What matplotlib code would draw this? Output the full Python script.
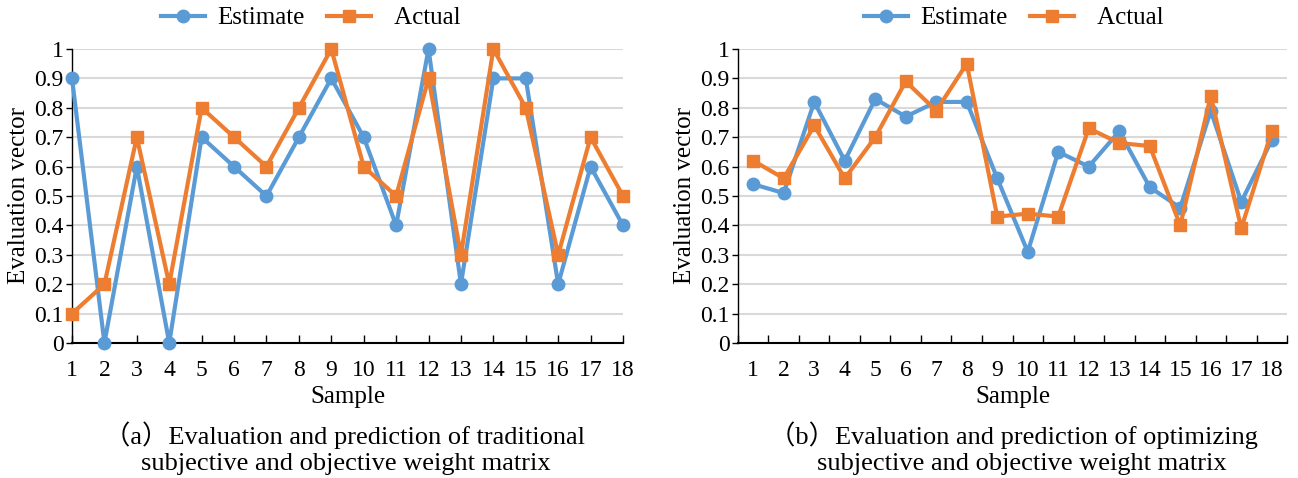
import numpy as np
import matplotlib.pyplot as plt
from matplotlib.ticker import FixedLocator

plt.rcParams['font.family'] = ['Liberation Serif', 'DejaVu Serif']

samples = list(range(1, 19))

# (a) traditional subjective/objective weight matrix
est_a = [0.9, 0.0, 0.6, 0.0, 0.7, 0.6, 0.5, 0.7, 0.9, 0.7, 0.4, 1.0, 0.2, 0.9, 0.9, 0.2, 0.6, 0.4]
act_a = [0.1, 0.2, 0.7, 0.2, 0.8, 0.7, 0.6, 0.8, 1.0, 0.6, 0.5, 0.9, 0.3, 1.0, 0.8, 0.3, 0.7, 0.5]

# (b) optimizing weight matrix
est_b = [0.54, 0.51, 0.82, 0.62, 0.83, 0.77, 0.82, 0.82, 0.56, 0.31, 0.65, 0.60, 0.72, 0.53, 0.46, 0.79, 0.48, 0.69]
act_b = [0.62, 0.56, 0.74, 0.56, 0.70, 0.89, 0.79, 0.95, 0.43, 0.44, 0.43, 0.73, 0.68, 0.67, 0.40, 0.84, 0.39, 0.72]

yticks = np.round(np.arange(0, 1.01, 0.1), 1)
ytick_labels = ["0"] + ["%.1f" % v for v in yticks[1:-1]] + ["1"]

blue = "#5B9BD5"
orange = "#ED7D31"
fs = 18
tfs = 17
cfs = 19

fig = plt.figure(figsize=(12.98, 4.78), dpi=100)
ax_a = fig.add_axes([72/1298, 1-343/478, 551/1298, 294/478])
ax_b = fig.add_axes([738/1298, 1-343/478, 549/1298, 294/478])


def style(ax):
    ax.set_ylim(0, 1)
    ax.set_yticks(yticks)
    ax.set_yticklabels(ytick_labels, fontsize=tfs)
    ax.yaxis.grid(True, color="#D9D9D9", linewidth=1.5)
    ax.set_axisbelow(True)
    for s in ["top", "right"]:
        ax.spines[s].set_visible(False)
    ax.spines["left"].set_linewidth(1.0)
    ax.spines["bottom"].set_linewidth(1.5)
    ax.tick_params(axis="y", direction="out", length=4, width=1, pad=2)
    ax.set_ylabel("Evaluation vector", fontsize=fs, labelpad=3)
    ax.set_xlabel("Sample", fontsize=fs, labelpad=4)


leg_kw = dict(loc="center", bbox_transform=fig.transFigure, ncol=2, frameon=False, fontsize=fs,
              handlelength=1.75, columnspacing=0.9, handletextpad=0.5)

# panel a
ax_a.plot(samples, est_a, color=blue, lw=3, marker="o", ms=9, label="Estimate", clip_on=False, zorder=3)
ax_a.plot(samples, act_a, color=orange, lw=3, marker="s", ms=9, label="  Actual", clip_on=False, zorder=4)
ax_a.set_xlim(1, 18)
ax_a.set_xticks(samples)
ax_a.set_xticklabels([str(s) for s in samples], fontsize=tfs)
ax_a.tick_params(axis="x", direction="in", length=6, width=1, pad=12)
style(ax_a)
ax_a.legend(bbox_to_anchor=(311/1298, 1-18/478), **leg_kw)

# panel b
ax_b.plot(samples, est_b, color=blue, lw=3, marker="o", ms=9, label="Estimate", zorder=3)
ax_b.plot(samples, act_b, color=orange, lw=3, marker="s", ms=9, label="  Actual", zorder=4)
ax_b.set_xlim(0.5, 18.5)
ax_b.set_xticks(samples)
ax_b.set_xticklabels([str(s) for s in samples], fontsize=tfs)
ax_b.xaxis.set_minor_locator(FixedLocator(np.arange(0.5, 18.6, 1)))
ax_b.tick_params(axis="x", which="major", length=0, pad=12)
ax_b.tick_params(axis="x", which="minor", direction="in", length=6, width=1)
style(ax_b)
ax_b.legend(bbox_to_anchor=(1014/1298, 1-18/478), **leg_kw)

# captions
cap_font = ['Liberation Serif', 'Noto Sans CJK SC']
fig.text(345/1298, 1-435/478, "（a）Evaluation and prediction of traditional", ha="center", va="center",
         fontsize=cfs, family=cap_font)
fig.text(346/1298, 1-464/478, "subjective and objective weight matrix", ha="center", va="center", fontsize=cfs)
fig.text(1013/1298, 1-435/478, "（b）Evaluation and prediction of optimizing", ha="center", va="center",
         fontsize=cfs, family=cap_font)
fig.text(1022/1298, 1-464/478, "subjective and objective weight matrix", ha="center", va="center", fontsize=cfs)

fig.savefig("out.png", dpi=100)
